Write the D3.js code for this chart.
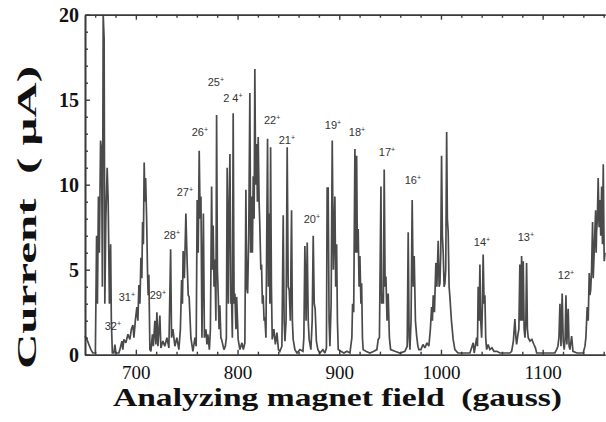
<!DOCTYPE html>
<html><head><meta charset="utf-8">
<script src="https://cdn.jsdelivr.net/npm/d3@7"></script>
<style>body{margin:0;background:#fff}svg{display:block}</style>
</head><body>
<svg id="c" width="606" height="422"></svg>
<script>
// Analyzing magnet field (gauss)
const fieldGauss = [650.0,651.9,653.8,655.8,657.7,660.2,661.4,662.2,663.2,664.1,665.3,666.3,667.1,667.9,668.8,669.5,670.5,671.8,672.8,674.0,675.2,675.9,676.9,678.4,679.4,680.4,683.3,684.3,686.3,687.2,688.2,690.2,692.2,694.1,695.6,697.1,698.1,699.5,701.0,702.0,703.0,704.0,705.0,705.9,706.6,707.4,708.2,708.9,709.6,710.6,711.5,712.1,712.8,713.8,714.8,716.3,717.2,718.7,719.7,720.7,721.7,723.6,724.6,726.6,728.5,730.5,732.5,734.2,735.1,736.4,738.4,740.3,742.3,743.8,745.0,745.8,746.5,747.7,749.2,750.5,751.5,752.4,754.1,756.1,758.1,759.3,760.3,761.3,762.3,763.2,764.0,765.0,766.4,767.4,768.9,769.9,770.8,772.3,773.3,774.5,775.3,776.0,776.9,777.7,778.7,779.4,780.2,781.0,781.8,782.6,783.6,784.3,786.6,788.0,789.0,789.8,791.0,791.8,792.5,793.5,794.1,794.9,795.7,796.6,797.4,798.4,799.1,800.6,802.3,804.3,805.7,807.2,808.2,809.0,809.9,811.0,812.1,812.9,813.8,814.6,815.4,816.3,817.0,817.8,818.7,819.5,820.3,821.2,821.9,822.9,823.6,824.4,825.2,826.1,826.9,827.9,829.5,830.3,831.1,831.8,832.5,833.3,834.1,835.7,837.2,838.7,840.2,841.6,843.6,844.9,845.8,846.6,847.7,848.8,849.8,850.8,851.9,853.1,853.9,854.7,856.4,858.4,861.3,864.3,865.2,866.2,867.4,868.5,869.5,870.4,872.1,873.4,874.4,875.4,876.3,877.5,879.0,881.0,883.9,885.9,887.4,888.1,889.1,890.0,890.8,892.0,893.1,894.2,895.7,896.5,897.4,898.2,899.0,901.6,904.6,907.5,910.5,912.4,913.1,914.2,915.4,916.2,917.1,917.8,918.6,919.5,920.3,921.3,922.0,922.8,923.5,926.2,930.1,934.1,937.0,938.3,939.5,941.0,941.7,942.6,943.4,944.2,945.1,945.9,947.0,948.1,949.3,950.5,954.7,959.6,964.6,966.8,967.8,968.7,969.5,970.6,971.7,972.7,973.7,974.9,976.1,977.3,978.3,980.3,982.3,984.2,986.2,988.1,989.6,990.8,991.6,992.4,993.6,995.0,996.0,997.3,998.2,999.0,999.8,1000.6,1001.4,1002.2,1003.1,1003.9,1004.7,1005.6,1006.3,1007.1,1008.0,1008.8,1010.3,1012.0,1013.7,1016.7,1020.6,1024.5,1028.5,1031.7,1032.7,1035.1,1035.9,1036.6,1037.5,1038.3,1039.1,1040.0,1040.8,1041.5,1042.4,1043.2,1044.0,1044.9,1046.4,1048.1,1050.1,1052.1,1055.0,1058.0,1062.9,1067.8,1069.5,1071.2,1072.7,1073.7,1074.4,1075.7,1076.6,1077.6,1078.4,1079.3,1080.1,1080.9,1081.8,1082.6,1083.5,1084.2,1085.0,1085.8,1087.5,1089.4,1091.4,1092.9,1094.1,1097.3,1102.2,1107.1,1112.0,1113.7,1115.0,1116.0,1117.0,1118.0,1119.2,1120.2,1121.2,1122.1,1122.9,1123.8,1125.1,1126.0,1126.8,1128.5,1129.8,1133.7,1136.6,1139.9,1141.6,1142.5,1143.8,1144.8,1145.8,1146.5,1147.2,1148.1,1149.1,1149.7,1150.4,1151.2,1152.1,1152.6,1153.0,1153.8,1154.6,1155.5,1156.3,1157.1,1158.0,1158.8,1159.6,1160.5,1161.3];
// Current (uA)
const currentUA = [1.1,0.9,0.6,0.3,0.1,0.1,7.0,3.0,9.3,6.0,12.6,12.0,4.0,20.0,18.6,3.0,8.0,11.0,9.0,3.0,6.5,2.0,0.1,0.1,0.6,0.1,0.1,0.3,0.8,0.3,0.9,0.7,1.2,0.9,1.5,1.75,1.0,2.0,2.8,2.0,4.1,3.0,5.7,4.5,7.8,6.5,11.3,9.0,10.4,8.0,4.8,3.5,4.7,0.3,0.2,1.2,0.5,2.0,0.6,2.5,0.5,2.3,0.4,0.8,0.5,1.0,0.4,6.2,1.0,1.5,0.5,1.0,0.3,1.5,4.4,3.0,6.1,4.5,8.3,5.3,3.5,3.4,1.0,0.2,1.0,0.5,9.1,6.0,12.0,8.0,9.3,1.0,8.3,1.0,1.5,0.6,1.2,0.3,1.5,9.9,5.0,7.6,4.0,5.6,2.0,14.1,5.0,3.5,1.5,2.9,1.0,0.9,0.3,0.5,1.0,11.0,3.0,9.0,11.8,3.0,3.4,1.0,14.2,3.0,3.6,1.5,3.4,0.9,0.3,0.7,0.3,0.7,9.7,4.0,3.6,7.0,15.4,6.0,9.3,6.0,10.5,8.0,16.8,10.0,12.4,9.0,12.8,9.0,7.6,5.0,5.3,3.0,3.5,2.0,2.2,1.0,12.7,4.0,8.3,3.0,12.2,4.0,0.9,1.5,0.6,1.3,0.3,0.2,0.5,8.2,2.0,0.8,2.0,12.2,4.0,3.8,2.0,8.5,2.0,0.9,0.3,0.1,0.3,0.2,1.0,6.4,2.0,6.6,2.0,0.9,0.3,2.0,7.0,3.0,2.7,0.8,0.3,0.1,0.3,0.1,0.4,9.8,9.8,2.0,0.5,3.0,12.6,5.0,9.3,4.0,6.5,2.0,0.3,0.2,0.1,0.2,0.1,1.0,3.0,2.5,12.1,6.0,11.7,6.0,7.4,4.0,5.8,3.0,4.2,1.0,0.3,0.2,0.1,0.2,0.3,0.9,1.0,9.9,3.0,3.6,3.0,10.9,4.0,4.6,2.0,3.6,1.0,0.3,0.2,0.1,0.2,0.5,7.2,1.0,0.3,2.0,9.1,4.0,5.8,2.0,1.1,0.5,0.3,0.3,0.6,0.4,0.7,0.5,1.5,2.8,2.0,3.5,2.5,5.4,4.0,6.7,4.0,4.2,6.0,11.7,7.0,6.0,4.0,4.2,5.0,13.1,8.0,7.2,4.0,3.4,2.0,0.9,0.3,0.1,0.1,0.1,0.1,0.7,0.1,1.0,0.5,4.0,2.0,5.3,2.0,1.0,3.0,5.9,3.0,3.5,1.0,0.3,0.6,0.3,0.4,0.2,0.2,0.1,0.1,0.1,0.2,0.8,2.1,1.0,0.6,1.2,1.5,5.3,2.0,5.8,2.0,5.5,1.5,1.0,2.0,5.4,1.5,1.0,0.8,0.9,0.6,0.4,0.1,0.1,0.1,0.1,0.1,0.3,0.5,1.0,3.0,0.5,3.6,0.8,0.3,1.0,3.5,0.6,2.7,0.5,0.3,1.1,0.2,0.1,0.1,0.1,0.5,1.0,2.8,2.0,4.8,3.5,3.8,5.0,7.8,4.5,5.6,7.0,8.5,6.0,7.2,8.0,10.4,7.5,9.1,7.0,9.9,6.5,11.2,5.5,6.0];
// peak annotations (charge states)
const peakLabels = ["32","31","29","28","27","26","25","2 4","22","21","20","19","18","17","16","14","13","12"];
const peakGauss  = [677.4,691.2,721.7,735.4,748.2,763.0,778.7,795.4,834.0,848.5,873.1,893.8,917.4,946.9,972.4,1040.3,1083.5,1122.9];
const peakCurrent= [1.45,3.16,3.28,6.81,9.34,12.86,15.81,14.86,13.57,12.39,7.75,13.28,12.86,11.69,10.04,6.39,6.69,4.45];
const xTicks = [700,800,900,1000,1100];
const yTicks = [0,5,10,15,20];

const svg = d3.select("#c");
const L=85, R=605, T=14.7, B=354.7;
const x = d3.scaleLinear().domain([650,1161.3]).range([L,R]);
const y = d3.scaleLinear().domain([0,20]).range([B,T]);
const axisColor="#3a3a3a";

// data line
const pts = fieldGauss.map((g,i)=>[g,currentUA[i]]);
svg.append("path").datum(pts)
  .attr("fill","none").attr("stroke","#4a4a4a").attr("stroke-width",1.7)
  .attr("stroke-linejoin","miter").attr("stroke-miterlimit",2)
  .attr("d", d3.line().x(d=>x(d[0])).y(d=>y(Math.min(d[1],20))));

// axes
const serif = "'Liberation Serif','Times New Roman',serif";
const yMinor = d3.range(0,21,1).filter(v=>v%5!==0);
const xMinor = d3.range(660,1161,20).filter(v=>v%100!==0);

const gl = svg.append("g").attr("transform",`translate(${L},0)`);
gl.call(d3.axisLeft(y).tickValues(yTicks).tickSizeInner(-5).tickSizeOuter(0).tickPadding(6));
gl.append("g").call(d3.axisLeft(y).tickValues(yMinor).tickSizeInner(-3).tickSizeOuter(0).tickFormat(""));
gl.selectAll("text").attr("font-family",serif).attr("font-size",20).attr("font-weight","bold").attr("fill","#111").attr("dy","0.36em");

const gb = svg.append("g").attr("transform",`translate(0,${B})`);
gb.call(d3.axisBottom(x).tickValues(xTicks).tickFormat(d3.format("d")).tickSizeInner(-5).tickSizeOuter(0).tickPadding(11));
gb.append("g").call(d3.axisBottom(x).tickValues(xMinor).tickSizeInner(-3).tickSizeOuter(0).tickFormat(""));
gb.selectAll("text").attr("font-family",serif).attr("font-size",19).attr("fill","#111");

const gt = svg.append("g").attr("transform",`translate(0,${T})`);
gt.call(d3.axisTop(x).tickValues(xTicks).tickSizeInner(-5).tickSizeOuter(0).tickFormat(""));
gt.append("g").call(d3.axisTop(x).tickValues(xMinor).tickSizeInner(-3).tickSizeOuter(0).tickFormat(""));

svg.selectAll(".domain").attr("stroke",axisColor).attr("stroke-width",1.6);
svg.selectAll(".tick line").attr("stroke",axisColor).attr("stroke-width",1.4);

// peak labels
peakLabels.forEach((lab,i)=>{
  const t = svg.append("text")
    .attr("x", x(peakGauss[i])).attr("y", y(peakCurrent[i]))
    .attr("text-anchor","middle")
    .attr("font-family","'Liberation Sans',Arial,sans-serif")
    .attr("font-size",11).attr("fill","#333");
  t.append("tspan").text(lab);
  t.append("tspan").attr("dy",-4).attr("font-size",7).text("+");
});

// titles
svg.append("text").attr("x",113).attr("y",406)
  .attr("font-family",serif).attr("font-weight","bold").attr("font-size",25)
  .attr("fill","#111").attr("textLength",449).attr("lengthAdjust","spacingAndGlyphs")
  .attr("xml:space","preserve")
  .text("Analyzing magnet field  (gauss)");
svg.append("text").attr("transform","translate(36,369) rotate(-90)")
  .attr("font-family",serif).attr("font-weight","bold").attr("font-size",28)
  .attr("fill","#111").attr("textLength",303).attr("lengthAdjust","spacingAndGlyphs")
  .attr("xml:space","preserve")
  .text("Current  ( \u03bcA)");
</script>
</body></html>
